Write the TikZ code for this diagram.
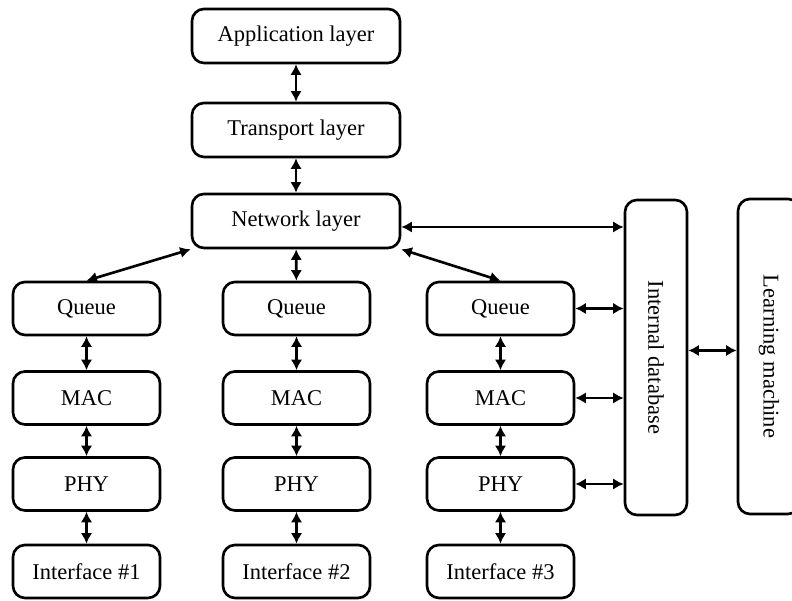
\documentclass[tikz,border=0pt]{standalone}
\usepackage{fontspec}
\setmainfont{Liberation Serif}
\usetikzlibrary{arrows.meta}

\begin{document}
\begin{tikzpicture}[
    box/.style={draw, line width=1.5pt, rounded corners=0.24cm, font=\fontsize{12.8}{15}\selectfont},
    layerbox/.style={box, minimum width=4.16cm, minimum height=1.08cm},
    stackbox/.style={box, minimum width=2.94cm, minimum height=1.06cm},
    sidebox/.style={box, minimum width=6.3cm, minimum height=1.24cm, rotate=-90},
    link/.style={<->, line width=1.5pt, >={Latex[length=6pt,width=6.5pt]}}
]
\useasboundingbox (0,0) rectangle (15.84,12.02);

% upper layers
\node[layerbox] (app) at (5.92,11.30) {Application layer};
\node[layerbox] (tra) at (5.92,9.42) {Transport layer};
\node[layerbox] (net) at (5.92,7.60) {Network layer};
\draw[link] (app) -- (tra);
\draw[link] (tra) -- (net);

% one stack per interface
\foreach \c/\x in {1/1.73,2/5.93,3/10.01} {
    \node[stackbox] (que\c) at (\x,5.85) {Queue};
    \node[stackbox] (mac\c) at (\x,4.06) {MAC};
    \node[stackbox] (phy\c) at (\x,2.34) {PHY};
    \node[stackbox] (ifc\c) at (\x,0.59) {Interface \#\c};
    \draw[link] (que\c) -- (mac\c);
    \draw[link] (mac\c) -- (phy\c);
    \draw[link] (phy\c) -- (ifc\c);
}
\draw[link] (net.south west) -- (que1.north);
\draw[link] (net) -- (que2);
\draw[link] (net.south east) -- (que3.north);

% database and learning
\node[sidebox] (db) at (13.12,4.87) {Internal database};
\node[sidebox] (lm) at (15.38,4.89) {Learning machine};
\draw[link] ([yshift=-0.12cm]net.east) -- ([yshift=-0.12cm]net.east -| db.south);
\foreach \r in {que3,mac3,phy3}
    \draw[link] (\r.east) -- (\r.east -| db.south);
\draw[link] ([yshift=0.14cm]db.north) -- ([yshift=0.14cm]db.north -| lm.south);

\end{tikzpicture}
\end{document}
